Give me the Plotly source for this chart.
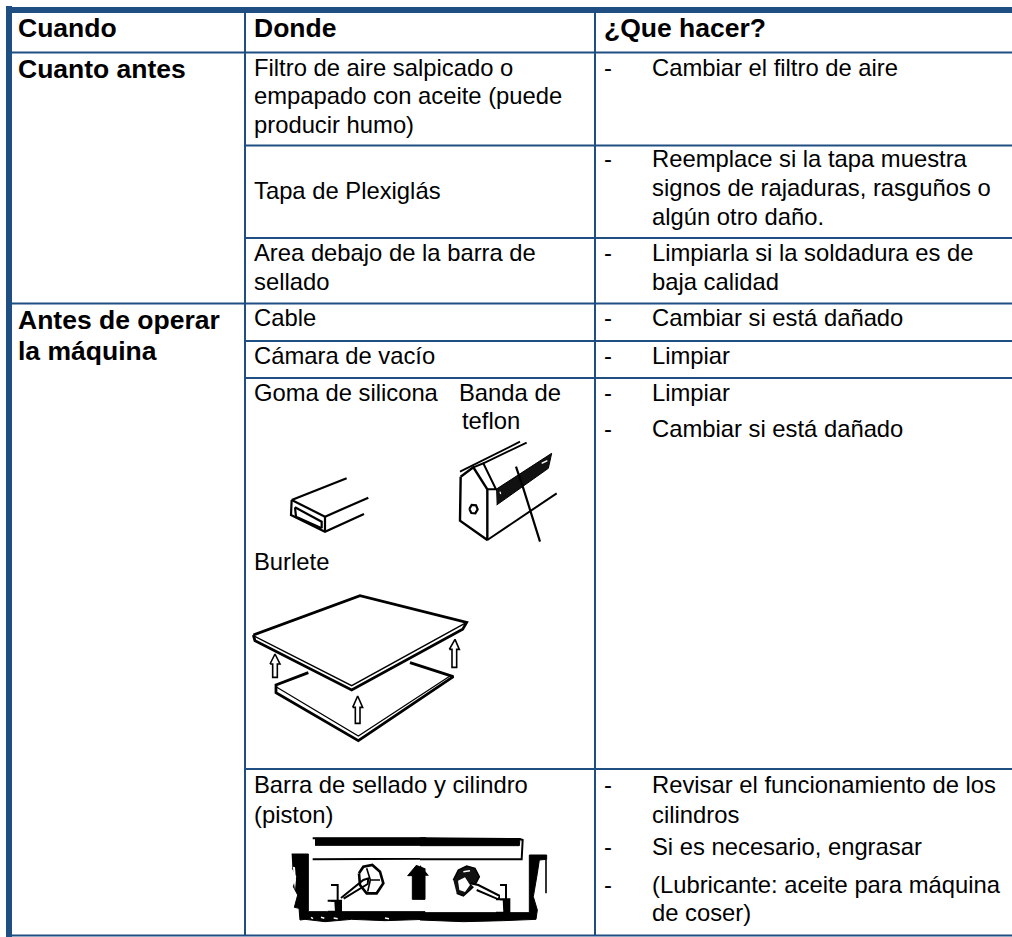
import plotly.graph_objects as go

# ---- text content ----
HEADERS = ["Cuando", "Donde", "¿Que hacer?"]
WHEN = [("Cuanto antes", 69), ("Antes de operar", 320), ("la máquina", 351)]
WHERE = [
    ("Filtro de aire salpicado o", 67), ("empapado con aceite (puede", 95), ("producir humo)", 124),
    ("Tapa de Plexiglás", 190),
    ("Area debajo de la barra de", 252), ("sellado", 281),
    ("Cable", 317), ("Cámara de vacío", 355), ("Goma de silicona", 392),
    ("Burlete", 561),
    ("Barra de sellado y cilindro", 784), ("(piston)", 814),
]
WHERE2 = [("Banda de", 392), ("teflon", 420)]
WHAT = [
    ("Cambiar el filtro de aire", 67, True),
    ("Reemplace si la tapa muestra", 158, True), ("signos de rajaduras, rasguños o", 187, False), ("algún otro daño.", 216, False),
    ("Limpiarla si la soldadura es de", 252, True), ("baja calidad", 281, False),
    ("Cambiar si está dañado", 317, True),
    ("Limpiar", 355, True),
    ("Limpiar", 392, True),
    ("Cambiar si está dañado", 428, True),
    ("Revisar el funcionamiento de los", 784, True), ("cilindros", 814, False),
    ("Si es necesario, engrasar", 846, True),
    ("(Lubricante: aceite para máquina", 884, True), ("de coser)", 912, False),
]

# ---- table rules ----
BLUE = "#1f4e82"
ROW_RULES_WIDE = [52.5, 303.5]
ROW_RULES_RIGHT = [145.5, 238, 341, 378, 769]
COL_RULES = [245, 595]

FONT = "Liberation Sans, Arial, sans-serif"
BODY = 23.8
BOLD = 26.5

fig = go.Figure()

def crop(ox, oy, pts):
    return [ox + p[0] / 3 for p in pts], [oy + p[1] / 3 for p in pts]

def stroke(ox, oy, pts, w=2, color="#000"):
    xs, ys = crop(ox, oy, pts)
    fig.add_trace(go.Scatter(x=xs, y=ys, mode="lines", line=dict(color=color, width=w), hoverinfo="skip", showlegend=False))

def poly(ox, oy, pts, fill="#000", w=1, color="#000"):
    xs, ys = crop(ox, oy, pts)
    fig.add_trace(go.Scatter(x=xs, y=ys, mode="lines", fill="toself", fillcolor=fill, line=dict(color=color, width=w), hoverinfo="skip", showlegend=False))

# --- rubber strip ---
R = (240, 400)
for s in [
    [(155, 300), (320, 235)],
    [(155, 300), (255, 350), (385, 293)],
    [(155, 300), (153, 345), (255, 395), (372, 342)],
    [(255, 350), (255, 395)],
    [(165, 322), (245, 365), (245, 385)],
    [(165, 322), (168, 350), (245, 385)],
]:
    stroke(*R, s, 2.2)

# --- bar with teflon ---
C = (440, 430)
poly(*C, [(168, 178), (335, 70), (325, 115), (170, 225)], fill="#111")
for s, w in [
    ([(62, 140), (100, 112), (142, 178), (142, 330), (60, 272), (62, 140)], 2.4),
    ([(60, 125), (240, 35)], 1.8),
    ([(130, 100), (260, 38)], 1.8),
    ([(100, 112), (130, 100), (168, 178), (142, 178)], 2),
    ([(142, 330), (350, 190)], 2),
    ([(228, 110), (250, 175), (300, 335)], 2.2),
    ([(88, 237), (95, 225), (108, 226), (113, 238), (106, 250), (94, 249), (88, 237)], 2.2),
]:
    stroke(*C, s, w)
stroke(*C, [(305, 100), (322, 92)], 1.5, "#fff")
stroke(*C, [(180, 185), (182, 192)], 1.2, "#fff")

# --- gasket ---
G = (240, 570)
for s, w in [
    ([(40, 195), (360, 77), (680, 157), (668, 178), (335, 360), (45, 212), (40, 195)], 2.8),
    ([(40, 197), (335, 347), (680, 157)], 1.4),
    ([(205, 308), (108, 345), (108, 368), (355, 512), (640, 320), (510, 278)], 2.8),
    ([(108, 350), (355, 498), (630, 318)], 1.2),
    ([(90, 282), (105, 252), (120, 282), (112, 282), (112, 322), (98, 322), (98, 282), (90, 282)], 1.6),
    ([(338, 412), (353, 378), (368, 412), (360, 412), (360, 460), (346, 460), (346, 412), (338, 412)], 1.6),
    ([(628, 238), (645, 208), (658, 238), (650, 238), (650, 292), (636, 292), (636, 238), (628, 238)], 1.6),
]:
    stroke(*G, s, w)

# --- piston, left half ---
A = (285, 830)
poly(*A, [(20, 72), (70, 72), (70, 245), (420, 245), (420, 268), (300, 272), (200, 268), (120, 275), (60, 268), (45, 270), (42, 235), (28, 232), (38, 195), (25, 170), (35, 140), (22, 115)])
poly(*A, [(24, 110), (30, 112), (33, 150), (30, 180), (26, 150)], fill="#fff", w=0, color="#fff")
for s in [[(78, 262), (84, 266)], [(108, 262), (118, 265)], [(146, 264), (158, 266)], [(300, 264), (312, 266)]]:
    stroke(*A, s, 1.5, "#fff")
poly(*A, [(83, 25), (420, 25), (420, 86), (83, 88)], fill="#fff", w=2)
poly(*A, [(90, 25), (420, 25), (420, 46), (90, 46)])
poly(*A, [(128, 212), (168, 212), (168, 245), (128, 245)], fill="#fff", w=2)
poly(*A, [(148, 212), (168, 212), (168, 245), (150, 245)], w=0)
poly(*A, [(138, 165), (158, 165), (158, 212), (138, 212)], fill="#fff", w=2)
poly(*A, [(168, 204), (235, 150), (250, 145), (248, 162), (176, 206)], fill="#fff", w=2)
stroke(*A, [(222, 130), (235, 110), (262, 105), (285, 125), (295, 160), (275, 190), (245, 190), (225, 165), (222, 130)], 2.6)
stroke(*A, [(245, 115), (256, 150), (285, 150)], 1.6)
stroke(*A, [(256, 150), (248, 185)], 1.6)
poly(*A, [(395, 105), (368, 137), (382, 137), (382, 208), (420, 208), (420, 115)])

# --- piston, right half ---
B = (420, 830)
poly(*B, [(0, 248), (328, 248), (328, 75), (380, 75), (380, 88), (358, 90), (352, 130), (340, 200), (352, 240), (348, 268), (250, 272), (130, 275), (0, 270)])
stroke(*B, [(378, 88), (378, 190)], 1.6)
poly(*B, [(0, 25), (300, 27), (308, 30), (305, 88), (0, 88)], fill="#fff", w=2)
poly(*B, [(0, 25), (300, 27), (298, 47), (0, 47)])
poly(*B, [(0, 105), (27, 137), (12, 137), (12, 208), (0, 208)], w=0)
poly(*B, [(100, 150), (115, 120), (140, 108), (165, 115), (178, 140), (165, 165), (150, 180), (130, 198), (110, 190)], fill="#111", w=1.5)
poly(*B, [(114, 152), (135, 142), (150, 165), (135, 186), (118, 180)], fill="#fff", w=0, color="#fff")
stroke(*B, [(130, 125), (150, 122)], 1.5, "#fff")
poly(*B, [(150, 160), (175, 165), (240, 198), (235, 208), (170, 180)], fill="#fff", w=2)
poly(*B, [(228, 208), (268, 208), (268, 248), (228, 248)], fill="#fff", w=2)
poly(*B, [(248, 208), (268, 208), (268, 248), (250, 248)], w=0)
poly(*B, [(240, 165), (258, 165), (258, 208), (240, 208)], fill="#fff", w=2)

# --- table rules ---
def rule(x0, y0, x1, y1, w):
    fig.add_shape(type="line", x0=x0, y0=y0, x1=x1, y1=y1, line=dict(color=BLUE, width=w), layer="above")

rule(6, 10, 1012, 10, 6)
rule(9, 6, 9, 937, 6)
for y in ROW_RULES_WIDE:
    rule(12, y, 1012, y, 2)
for y in ROW_RULES_RIGHT:
    rule(245, y, 1012, y, 2)
rule(12, 935.5, 1012, 935.5, 2)
for x in COL_RULES:
    rule(x, 12, x, 935.5, 2)

# --- text ---
def label(x, y, t, size=BODY, bold=False):
    fig.add_annotation(x=x, y=y, text=f"<b>{t}</b>" if bold else t, showarrow=False, xanchor="left", yanchor="middle",
                       font=dict(family=FONT, size=size, color="#000"), borderpad=0, borderwidth=0)

for x, t in zip([18, 254, 604], HEADERS):
    label(x, 28, t, BOLD, True)
for t, y in WHEN:
    label(18, y, t, BOLD, True)
for t, y in WHERE:
    label(254, y, t)
for t, y in WHERE2:
    label(459 if t == "Banda de" else 462, y, t)
for t, y, dash in WHAT:
    label(652, y, t)
    if dash:
        label(604, y, "-")

fig.update_layout(
    width=1012, height=937, margin=dict(l=0, r=0, t=0, b=0), showlegend=False,
    paper_bgcolor="#fff", plot_bgcolor="#fff",
    xaxis=dict(range=[0, 1012], visible=False, fixedrange=True),
    yaxis=dict(range=[937, 0], visible=False, fixedrange=True),
)
fig.write_html("out.html", config=dict(displayModeBar=False), post_script="document.body.style.margin='0';")
